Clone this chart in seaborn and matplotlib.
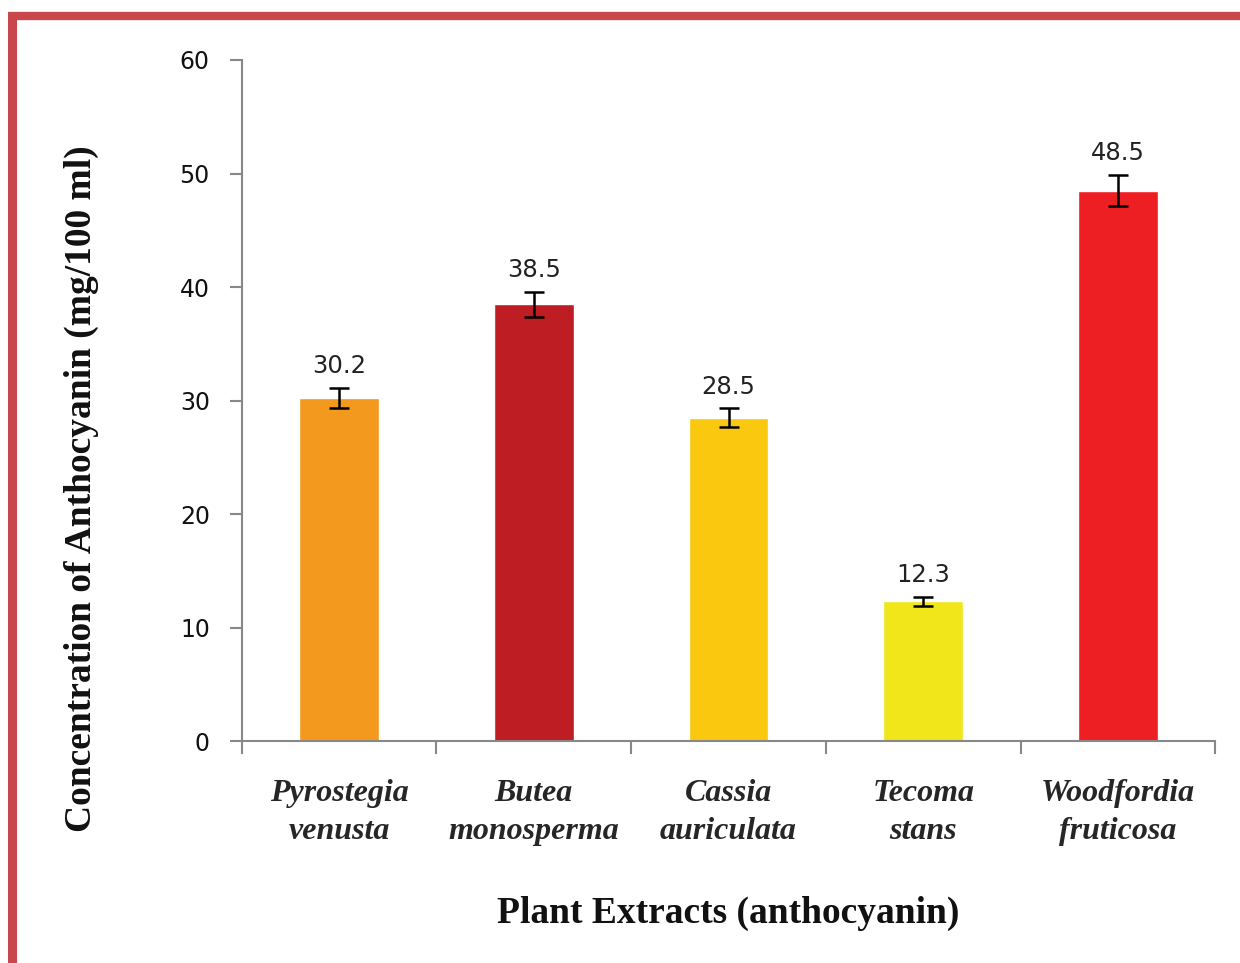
import matplotlib
matplotlib.use("Agg")
import matplotlib.pyplot as plt
import seaborn as sns
import pandas as pd
from matplotlib.lines import Line2D

categories = ["Pyrostegia\nvenusta", "Butea\nmonosperma", "Cassia\nauriculata",
              "Tecoma\nstans", "Woodfordia\nfruticosa"]
values = [30.2, 38.5, 28.5, 12.3, 48.5]
errors = [0.9, 1.1, 0.8, 0.4, 1.4]
colors = ["#F39A1E", "#BE1E23", "#FBC810", "#F0E61A", "#EE1F23"]
value_labels = ["30.2", "38.5", "28.5", "12.3", "48.5"]
y_ticks = [0, 10, 20, 30, 40, 50, 60]

sns.set_theme(style="white")
plt.rcParams["font.family"] = ["DejaVu Sans"]

df = pd.DataFrame({"plant": categories, "conc": values})

fig = plt.figure(figsize=(12.4, 9.63), dpi=100)
ax = fig.add_axes([0.195, 0.2305, 0.785, 0.7072])

sns.barplot(data=df, x="plant", y="conc", hue="plant", palette=colors,
            width=0.41, errorbar=None, legend=False, ax=ax, saturation=1)

xs = list(range(len(categories)))
ax.errorbar(xs, values, yerr=errors, fmt="none", ecolor="black",
            elinewidth=1.8, capsize=7, capthick=1.8, zorder=5)

for x, v, e, lab in zip(xs, values, errors, value_labels):
    ax.annotate(lab, xy=(x, v + e), xytext=(0, 7), textcoords="offset points",
                ha="center", va="bottom", fontsize=17.5, color="#222222")

ax.set_ylim(0, 60)
ax.set_xlim(-0.5, len(categories) - 0.5)
ax.set_yticks(y_ticks)
ax.set_yticklabels([str(t) for t in y_ticks], fontsize=17, color="#111111")

ax.set_xticks(xs)
ax.set_xticklabels(categories, fontsize=23, fontfamily="Liberation Serif",
                   fontweight="bold", fontstyle="italic", linespacing=1.45)
ax.set_xticks([i - 0.5 for i in range(len(categories) + 1)], minor=True)
ax.tick_params(axis="x", which="major", length=0, pad=27)
ax.tick_params(axis="x", which="minor", length=9, width=1.5, color="#888888",
               direction="out", bottom=True)
ax.tick_params(axis="y", which="major", length=9, width=1.5, color="#888888",
               direction="out", left=True, pad=14)

for side in ["top", "right"]:
    ax.spines[side].set_visible(False)
for side in ["left", "bottom"]:
    ax.spines[side].set_color("#888888")
    ax.spines[side].set_linewidth(1.5)

ax.set_xlabel("Plant Extracts (anthocyanin)", fontsize=27,
              fontfamily="Liberation Serif", fontweight="bold", color="#111111")
ax.set_ylabel("Concentration of Anthocyanin (mg/100 ml)", fontsize=27,
              fontfamily="Liberation Serif", fontweight="bold", color="#111111")
ax.xaxis.set_label_coords(0.5, -0.227)
ax.yaxis.set_label_coords(-0.147, 0.37)

# red frame (left and top)
fig.add_artist(Line2D([12 / 1240, 12 / 1240], [0, 1 - 16 / 963],
                      transform=fig.transFigure, color="#C8474A", linewidth=6.5,
                      solid_capstyle="butt"))
fig.add_artist(Line2D([8 / 1240, 1], [1 - 16 / 963, 1 - 16 / 963],
                      transform=fig.transFigure, color="#C8474A", linewidth=6,
                      solid_capstyle="butt"))

fig.savefig("out.png", dpi=100)
